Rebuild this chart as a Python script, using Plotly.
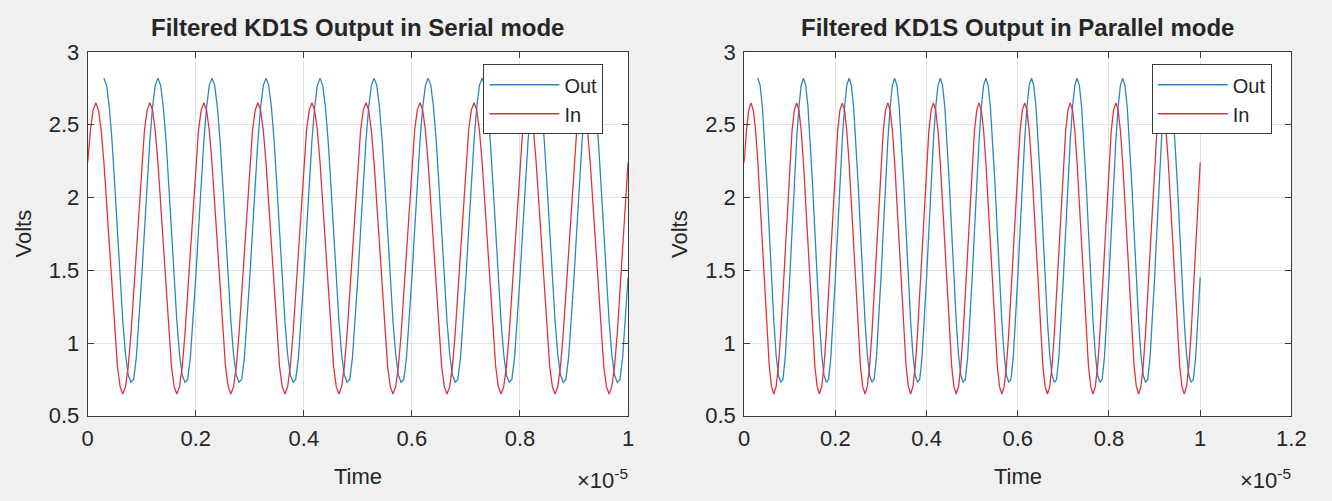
import numpy as np
import plotly.graph_objects as go

# Sampled filter waveforms (volts), 50 ns between samples
SAMPLE_PERIOD = 5e-8
IN_START = 0.0
OUT_START = 3e-7

IN_VOLTS = [
    2.24, 2.46, 2.60, 2.65, 2.60, 2.46, 2.24, 1.96, 1.65, 1.34, 1.06, 0.84, 0.70, 0.65, 0.70, 0.84, 1.06, 1.34, 1.65, 1.96,
    2.24, 2.46, 2.60, 2.65, 2.60, 2.46, 2.24, 1.96, 1.65, 1.34, 1.06, 0.84, 0.70, 0.65, 0.70, 0.84, 1.06, 1.34, 1.65, 1.96,
    2.24, 2.46, 2.60, 2.65, 2.60, 2.46, 2.24, 1.96, 1.65, 1.34, 1.06, 0.84, 0.70, 0.65, 0.70, 0.84, 1.06, 1.34, 1.65, 1.96,
    2.24, 2.46, 2.60, 2.65, 2.60, 2.46, 2.24, 1.96, 1.65, 1.34, 1.06, 0.84, 0.70, 0.65, 0.70, 0.84, 1.06, 1.34, 1.65, 1.96,
    2.24, 2.46, 2.60, 2.65, 2.60, 2.46, 2.24, 1.96, 1.65, 1.34, 1.06, 0.84, 0.70, 0.65, 0.70, 0.84, 1.06, 1.34, 1.65, 1.96,
    2.24, 2.46, 2.60, 2.65, 2.60, 2.46, 2.24, 1.96, 1.65, 1.34, 1.06, 0.84, 0.70, 0.65, 0.70, 0.84, 1.06, 1.34, 1.65, 1.96,
    2.24, 2.46, 2.60, 2.65, 2.60, 2.46, 2.24, 1.96, 1.65, 1.34, 1.06, 0.84, 0.70, 0.65, 0.70, 0.84, 1.06, 1.34, 1.65, 1.96,
    2.24, 2.46, 2.60, 2.65, 2.60, 2.46, 2.24, 1.96, 1.65, 1.34, 1.06, 0.84, 0.70, 0.65, 0.70, 0.84, 1.06, 1.34, 1.65, 1.96,
    2.24, 2.46, 2.60, 2.65, 2.60, 2.46, 2.24, 1.96, 1.65, 1.34, 1.06, 0.84, 0.70, 0.65, 0.70, 0.84, 1.06, 1.34, 1.65, 1.96,
    2.24, 2.46, 2.60, 2.65, 2.60, 2.46, 2.24, 1.96, 1.65, 1.34, 1.06, 0.84, 0.70, 0.65, 0.70, 0.84, 1.06, 1.34, 1.65, 1.96,
    2.24,
]

OUT_VOLTS = [
    2.82, 2.77, 2.62, 2.39, 2.09, 1.77, 1.45, 1.15, 0.92, 0.78, 0.73, 0.75, 0.90, 1.15, 1.45, 1.77, 2.09, 2.39, 2.62, 2.77,
    2.82, 2.77, 2.62, 2.39, 2.09, 1.77, 1.45, 1.15, 0.92, 0.78, 0.73, 0.75, 0.90, 1.15, 1.45, 1.77, 2.09, 2.39, 2.62, 2.77,
    2.82, 2.77, 2.62, 2.39, 2.09, 1.77, 1.45, 1.15, 0.92, 0.78, 0.73, 0.75, 0.90, 1.15, 1.45, 1.77, 2.09, 2.39, 2.62, 2.77,
    2.82, 2.77, 2.62, 2.39, 2.09, 1.77, 1.45, 1.15, 0.92, 0.78, 0.73, 0.75, 0.90, 1.15, 1.45, 1.77, 2.09, 2.39, 2.62, 2.77,
    2.82, 2.77, 2.62, 2.39, 2.09, 1.77, 1.45, 1.15, 0.92, 0.78, 0.73, 0.75, 0.90, 1.15, 1.45, 1.77, 2.09, 2.39, 2.62, 2.77,
    2.82, 2.77, 2.62, 2.39, 2.09, 1.77, 1.45, 1.15, 0.92, 0.78, 0.73, 0.75, 0.90, 1.15, 1.45, 1.77, 2.09, 2.39, 2.62, 2.77,
    2.82, 2.77, 2.62, 2.39, 2.09, 1.77, 1.45, 1.15, 0.92, 0.78, 0.73, 0.75, 0.90, 1.15, 1.45, 1.77, 2.09, 2.39, 2.62, 2.77,
    2.82, 2.77, 2.62, 2.39, 2.09, 1.77, 1.45, 1.15, 0.92, 0.78, 0.73, 0.75, 0.90, 1.15, 1.45, 1.77, 2.09, 2.39, 2.62, 2.77,
    2.82, 2.77, 2.62, 2.39, 2.09, 1.77, 1.45, 1.15, 0.92, 0.78, 0.73, 0.75, 0.90, 1.15, 1.45, 1.77, 2.09, 2.39, 2.62, 2.77,
    2.82, 2.77, 2.62, 2.39, 2.09, 1.77, 1.45, 1.15, 0.92, 0.78, 0.73, 0.75, 0.90, 1.15, 1.45,
]

Y_TICKS = [0.5, 1.0, 1.5, 2.0, 2.5, 3.0]
Y_TICK_LABELS = ["0.5", "1", "1.5", "2", "2.5", "3"]
X_TICKS_SERIAL = [0, 2e-6, 4e-6, 6e-6, 8e-6, 1e-5]
X_TICK_LABELS_SERIAL = ["0", "0.2", "0.4", "0.6", "0.8", "1"]
X_TICKS_PARALLEL = [0, 2e-6, 4e-6, 6e-6, 8e-6, 1e-5, 1.2e-5]
X_TICK_LABELS_PARALLEL = ["0", "0.2", "0.4", "0.6", "0.8", "1", "1.2"]

TITLES = ["Filtered KD1S Output in Serial mode", "Filtered KD1S Output in Parallel mode"]
SERIES_NAMES = ["Out", "In"]

t_in = IN_START + np.arange(len(IN_VOLTS)) * SAMPLE_PERIOD
t_out = OUT_START + np.arange(len(OUT_VOLTS)) * SAMPLE_PERIOD

W, H = 1332, 501
FONT = "Liberation Sans, Arial, sans-serif"
TEXT = "#262626"
OUT_COLOR = "#2f86b9"
IN_COLOR = "#dd3340"


def px(x):
    return x / W


def py(y):
    return 1 - y / H


# panel boxes in pixels: (left, right, top, bottom)
PANELS = [(83, 632, 42, 425), (750, 1306, 42, 425)]

fig = go.Figure()

for i, (suffix, legend_id) in enumerate([("", "legend"), ("2", "legend2")]):
    fig.add_trace(go.Scatter(
        x=t_out, y=OUT_VOLTS, mode="lines", name=SERIES_NAMES[0],
        line=dict(color=OUT_COLOR, width=1.3),
        xaxis="x" + suffix, yaxis="y" + suffix, legend=legend_id,
    ))
    fig.add_trace(go.Scatter(
        x=t_in, y=IN_VOLTS, mode="lines", name=SERIES_NAMES[1],
        line=dict(color=IN_COLOR, width=1.3),
        xaxis="x" + suffix, yaxis="y" + suffix, legend=legend_id,
    ))

axis_common = dict(
    showline=True, linecolor="#3a3a3a", linewidth=1, mirror="ticks",
    ticks="inside", ticklen=6, tickcolor="#3a3a3a", tickwidth=1,
    showgrid=True, gridcolor="#e3e3e3", gridwidth=1, zeroline=False,
    tickfont=dict(family=FONT, size=22, color=TEXT),
    ticklabelstandoff=3,
    fixedrange=True,
)

layout = dict(
    width=W, height=H,
    margin=dict(l=0, r=0, t=0, b=0),
    paper_bgcolor="#f0f0f0", plot_bgcolor="#ffffff",
    font=dict(family=FONT, color=TEXT),
    showlegend=True,
)

for i, (l, r, t, b) in enumerate(PANELS):
    suffix = "" if i == 0 else "2"
    xt, xl = (X_TICKS_SERIAL, X_TICK_LABELS_SERIAL) if i == 0 else (X_TICKS_PARALLEL, X_TICK_LABELS_PARALLEL)
    layout["xaxis" + suffix] = dict(
        axis_common, domain=[px(l), px(r)], range=[xt[0], xt[-1]],
        tickvals=xt, ticktext=xl, anchor="y" + suffix,
    )
    layout["yaxis" + suffix] = dict(
        axis_common, domain=[py(b), py(t)], range=[0.5, 3.0],
        tickvals=Y_TICKS, ticktext=Y_TICK_LABELS, anchor="x" + suffix,
    )

LEGEND_BOXES = [(607, 55), (1286, 55)]
for i, (right, top) in enumerate(LEGEND_BOXES):
    key = "legend" if i == 0 else "legend2"
    layout[key] = dict(
        x=px(right), y=py(top), xanchor="right", yanchor="top",
        bgcolor="#ffffff", bordercolor="#3a3a3a", borderwidth=1,
        font=dict(family=FONT, size=20, color=TEXT),
        itemwidth=70, tracegroupgap=0,
    )

fig.update_layout(**layout)

annotations = []
for i, (l, r, t, b) in enumerate(PANELS):
    cx = (l + r) / 2
    annotations.append(dict(
        text="<b>" + TITLES[i] + "</b>", x=px(cx), y=py(16), xref="paper", yref="paper",
        showarrow=False, xanchor="center", yanchor="middle",
        font=dict(family=FONT, size=24, color=TEXT),
    ))
    annotations.append(dict(
        text="Time", x=px(cx), y=py(489), xref="paper", yref="paper",
        showarrow=False, xanchor="center", yanchor="middle",
        font=dict(family=FONT, size=22, color=TEXT),
    ))
    annotations.append(dict(
        text="Volts", x=px(l - 65), y=py((t + b) / 2), xref="paper", yref="paper",
        showarrow=False, xanchor="center", yanchor="middle", textangle=-90,
        font=dict(family=FONT, size=22, color=TEXT),
    ))
    annotations.append(dict(
        text="\u00d710<sup>-5</sup>", x=px(r + 2), y=py(492), xref="paper", yref="paper",
        showarrow=False, xanchor="right", yanchor="middle",
        font=dict(family=FONT, size=22, color=TEXT),
    ))

fig.update_layout(annotations=annotations)

fig.write_html("out.html")
